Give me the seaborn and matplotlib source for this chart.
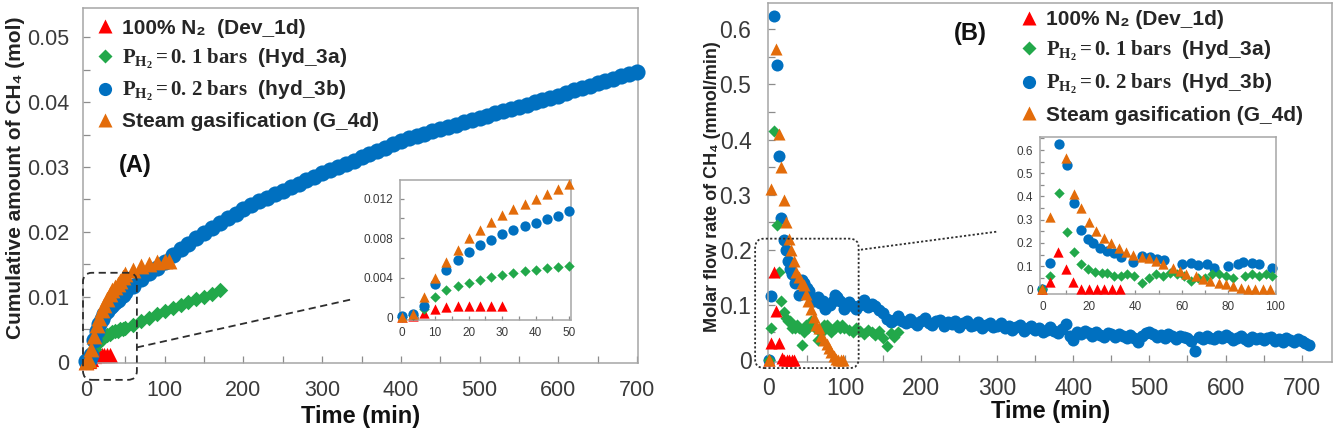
import matplotlib
matplotlib.use("Agg")
import matplotlib.pyplot as plt
import numpy as np
import seaborn as sns
from matplotlib.lines import Line2D
from matplotlib.patches import FancyBboxPatch
from matplotlib.ticker import MultipleLocator
from matplotlib.transforms import IdentityTransform

RED = "#FF0000"
GREEN = "#22A84A"
BLUE = "#0070C0"
ORANGE = "#E36C0A"

# ---- panel A: cumulative CH4 (mol) ----
A_T_FINE = [0, 3.3, 6.7, 10, 13.3, 16.7, 20, 23.3, 26.7, 30, 33.3, 36.7, 40, 43.3, 46.7, 50]
A_RED = [0, 0.0001, 0.0004, 0.0008, 0.001, 0.0011, 0.0011, 0.0011, 0.0011, 0.0011]
A_GREEN_FINE = [0, 0.0002, 0.0008, 0.002, 0.0027, 0.0032, 0.0035, 0.0038, 0.0041, 0.0043,
                0.0045, 0.0047, 0.0048, 0.005, 0.0051, 0.0052]
A_BLUE_FINE = [0.0001, 0.0003, 0.0011, 0.0034, 0.0048, 0.0058, 0.0066, 0.0073, 0.0078, 0.0084,
               0.0088, 0.0092, 0.0095, 0.0099, 0.0102, 0.0108]
A_ORANGE_FINE = [0, 0.0003, 0.002, 0.004, 0.0056, 0.0068, 0.008, 0.0088, 0.0096, 0.0104,
                 0.011, 0.0115, 0.012, 0.0125, 0.013, 0.0135]

A_T_GREEN_LONG = [60, 70, 80, 90, 100, 110, 120, 130, 140, 150, 160, 170]
A_GREEN_LONG = [0.0057, 0.0062, 0.0068, 0.0073, 0.0078, 0.0083, 0.0087, 0.0092, 0.0096, 0.0100,
                0.0105, 0.0110]
A_T_ORANGE_LONG = [60, 70, 80, 90, 100, 105]
A_ORANGE_LONG = [0.0141, 0.0147, 0.0151, 0.0153, 0.0155, 0.0155]
A_T_BLUE_LONG = list(range(60, 710, 10))
A_BLUE_LONG = [0.0117, 0.0127, 0.0136, 0.0145, 0.0154, 0.0164, 0.0173, 0.0182, 0.0190, 0.0198,
               0.0206, 0.0213, 0.0221, 0.0228, 0.0235, 0.0241, 0.0247, 0.0253, 0.0258, 0.0263,
               0.0269, 0.0274, 0.0280, 0.0285, 0.0290, 0.0295, 0.0300, 0.0305, 0.0310, 0.0315,
               0.0320, 0.0325, 0.0330, 0.0335, 0.0340, 0.0344, 0.0348, 0.0351, 0.0355, 0.0358,
               0.0362, 0.0365, 0.0369, 0.0372, 0.0376, 0.0379, 0.0383, 0.0386, 0.0390, 0.0393,
               0.0396, 0.0400, 0.0403, 0.0407, 0.0410, 0.0414, 0.0418, 0.0421, 0.0425, 0.0429,
               0.0432, 0.0436, 0.0440, 0.0443, 0.0447]

# ---- panel B: molar flow rate of CH4 (mmol/min) ----
B_T_RED = [0, 3.3, 6.7, 10, 13.3, 16.7, 20, 23.3, 26.7, 30, 33.3]
B_RED = [0, 0.03, 0.16, 0.088, 0.03, 0.003, 0.0, 0.0, 0.0, 0.0, 0.0]
B_T_GREEN = [0, 3.5, 7, 10.5, 13.5, 16.5, 19.5, 22.5, 25.5, 28, 31, 34, 36.5, 39.5, 43, 46, 49,
             52, 55, 58, 61, 64, 67, 70, 73, 76, 79, 82, 87, 90, 93, 96, 99]
B_GREEN = [0.0, 0.057, 0.415, 0.245, 0.16, 0.107, 0.086, 0.076, 0.071, 0.071, 0.057, 0.057,
           0.064, 0.057, 0.026, 0.05, 0.064, 0.057, 0.071, 0.064, 0.057, 0.036, 0.05, 0.05,
           0.064, 0.064, 0.057, 0.05, 0.057, 0.064, 0.057, 0.064, 0.057]
B_T_BLUE = [0, 3.5, 7, 10.5, 13.5, 16.5, 19.5, 22, 25, 28, 31, 34, 39, 43, 46.5, 49.5, 52.5,
            60, 64, 67, 71, 74, 80, 84, 86.5, 90, 93, 99]
B_BLUE = [0.0, 0.115, 0.625, 0.535, 0.37, 0.257, 0.217, 0.2, 0.18, 0.165, 0.155, 0.14, 0.117,
          0.145, 0.14, 0.13, 0.125, 0.107, 0.114, 0.103, 0.107, 0.093, 0.1, 0.107, 0.117,
          0.114, 0.107, 0.093]
B_T_ORANGE = [0, 3.5, 10, 13.5, 16.5, 20, 23, 26.5, 29.5, 33, 36, 39, 43, 46, 49, 52, 56, 59,
              62, 66, 69, 72, 76, 79, 82, 85.5, 88.5, 91.5, 95, 98]
B_ORANGE = [0.0, 0.31, 0.565, 0.41, 0.35, 0.29, 0.25, 0.22, 0.2, 0.18, 0.16, 0.15, 0.14, 0.135,
            0.12, 0.107, 0.093, 0.078, 0.064, 0.057, 0.043, 0.036, 0.028, 0.021, 0.014, 0.007,
            0.002, 0.0, 0.0, 0.0]
B_T_GREEN_LONG = [105, 110, 115, 120, 125, 130, 135, 140, 145, 150, 155, 160, 165, 170]
B_GREEN_LONG = [0.055, 0.050, 0.058, 0.052, 0.047, 0.055, 0.050, 0.045, 0.052, 0.040, 0.025,
                0.048, 0.042, 0.050]
B_T_BLUE_LONG = list(range(105, 711, 5))
B_BLUE_LONG = [0.105, 0.098, 0.092, 0.100, 0.108, 0.095, 0.102, 0.097, 0.090, 0.085,
               0.075, 0.068, 0.072, 0.080, 0.070, 0.066, 0.074, 0.069, 0.063, 0.071,
               0.076, 0.067, 0.064, 0.070, 0.073, 0.062, 0.068, 0.065, 0.071, 0.060,
               0.066, 0.070, 0.061, 0.064, 0.068, 0.058, 0.063, 0.067, 0.059, 0.062,
               0.066, 0.057, 0.061, 0.055, 0.060, 0.064, 0.053, 0.058, 0.062, 0.054,
               0.057, 0.050, 0.055, 0.060, 0.052, 0.048, 0.056, 0.065, 0.044, 0.036,
               0.050, 0.046, 0.053, 0.048, 0.044, 0.051, 0.045, 0.042, 0.049, 0.046,
               0.041, 0.047, 0.043, 0.039, 0.045, 0.040, 0.032, 0.044, 0.048, 0.051,
               0.046, 0.042, 0.045, 0.040, 0.047, 0.043, 0.038, 0.044, 0.041, 0.039,
               0.035, 0.016, 0.042, 0.038, 0.044, 0.040, 0.037, 0.043, 0.039, 0.045,
               0.041, 0.036, 0.040, 0.043, 0.038, 0.034, 0.041, 0.037, 0.040, 0.036,
               0.039, 0.042, 0.035, 0.038, 0.033, 0.040, 0.036, 0.032, 0.038, 0.035,
               0.030, 0.026]

LEGEND_A = ["100% N\u2082  (Dev_1d)",
            r"$\mathbf{P_{H_2} = 0.\,1\ bars}$  (Hyd_3a)",
            r"$\mathbf{P_{H_2} = 0.\,2\ bars}$  (hyd_3b)",
            "Steam gasification (G_4d)"]
LEGEND_B = ["100% N\u2082 (Dev_1d)",
            r"$\mathbf{P_{H_2} = 0.\,1\ bars}$  (Hyd_3a)",
            r"$\mathbf{P_{H_2} = 0.\,2\ bars}$  (Hyd_3b)",
            "Steam gasification (G_4d)"]

A_XTICKS = [0, 100, 200, 300, 400, 500, 600, 700]
A_YTICKS = [0, 0.01, 0.02, 0.03, 0.04, 0.05]
A_YLABELS = ["0", "0.01", "0.02", "0.03", "0.04", "0.05"]
B_XTICKS = [0, 100, 200, 300, 400, 500, 600, 700]
B_YTICKS = [0, 0.1, 0.2, 0.3, 0.4, 0.5, 0.6]
B_YLABELS = ["0", "0.1", "0.2", "0.3", "0.4", "0.5", "0.6"]
IA_XTICKS = [0, 10, 20, 30, 40, 50]
IA_YTICKS = [0, 0.004, 0.008, 0.012]
IA_YLABELS = ["0", "0.004", "0.008", "0.012"]
IB_XTICKS = [0, 20, 40, 60, 80, 100]
IB_YTICKS = [0, 0.1, 0.2, 0.3, 0.4, 0.5, 0.6]
IB_YLABELS = ["0", "0.1", "0.2", "0.3", "0.4", "0.5", "0.6"]

sns.set_theme(style="white")
plt.rcParams["font.family"] = ["Liberation Sans", "DejaVu Sans"]
plt.rcParams["mathtext.fontset"] = "custom"
plt.rcParams["mathtext.rm"] = "Liberation Serif"
plt.rcParams["mathtext.bf"] = "Liberation Serif:bold"
plt.rcParams["mathtext.it"] = "Liberation Serif:italic"

SPINE = "#A6A6A6"
TICKTXT = "#3A3A3A"


def dots(ax, x, y, color, marker, size, z):
    sns.scatterplot(x=x, y=y, ax=ax, color=color, marker=marker, s=size, linewidth=0,
                    zorder=z, clip_on=False, legend=False)


def style_axes(ax, xminor, yminor, labelsize, xpad, ypad, ticklen=5):
    for sp in ax.spines.values():
        sp.set_color(SPINE)
        sp.set_linewidth(1.1)
    ax.xaxis.set_minor_locator(MultipleLocator(xminor))
    ax.yaxis.set_minor_locator(MultipleLocator(yminor))
    ax.tick_params(which="both", direction="in", color="#8C8C8C", length=ticklen, width=0.9,
                   bottom=True, left=True, top=False, right=False)
    ax.tick_params(axis="x", which="major", labelsize=labelsize, labelcolor=TICKTXT, pad=xpad)
    ax.tick_params(axis="y", which="major", labelsize=labelsize, labelcolor=TICKTXT, pad=ypad)
    ax.set_xlabel("")
    ax.set_ylabel("")
    ax.grid(False)


def legend_handles(size):
    return [Line2D([], [], ls="none", marker="^", color=RED, mec="none", markersize=size),
            Line2D([], [], ls="none", marker="D", color=GREEN, mec="none", markersize=size * 0.7),
            Line2D([], [], ls="none", marker="o", color=BLUE, mec="none", markersize=size),
            Line2D([], [], ls="none", marker="^", color=ORANGE, mec="none", markersize=size)]


def rounded_box(fig, ax, x0, y0, x1, y1, ls):
    p0 = ax.transData.transform((x0, y0))
    p1 = ax.transData.transform((x1, y1))
    box = FancyBboxPatch((p0[0], p0[1]), p1[0] - p0[0], p1[1] - p0[1],
                         boxstyle="round,pad=0,rounding_size=9", transform=IdentityTransform(),
                         fill=False, ec="#2E2E2E", lw=1.3, ls=ls, zorder=5)
    fig.add_artist(box)


fig = plt.figure(figsize=(13.43, 4.28), dpi=100)
fig.patch.set_facecolor("white")

# ---------------- panel A ----------------
ax_a = fig.add_axes([0.0618, 0.1519, 0.4130, 0.8294])
dots(ax_a, A_T_FINE[:len(A_RED)], A_RED, RED, "^", 120, 2)
dots(ax_a, A_T_FINE + A_T_GREEN_LONG, A_GREEN_FINE + A_GREEN_LONG, GREEN, "D", 62, 3)
dots(ax_a, A_T_FINE + A_T_BLUE_LONG, A_BLUE_FINE + A_BLUE_LONG, BLUE, "o", 135, 4)
dots(ax_a, A_T_FINE + A_T_ORANGE_LONG, A_ORANGE_FINE + A_ORANGE_LONG, ORANGE, "^", 130, 5)
ax_a.set_xlim(-4, 701)
ax_a.set_ylim(-0.0002, 0.0545)
style_axes(ax_a, 50, 0.005, 15.5, 12, 10)
ax_a.set_xticks(A_XTICKS)
ax_a.set_yticks(A_YTICKS, labels=A_YLABELS)
ax_a.set_xlabel("Time (min)", fontsize=17, fontweight="bold", color="#111111")
ax_a.xaxis.set_label_coords(0.5, -0.152)
ax_a.xaxis.label.set_va("center")
ax_a.set_ylabel("Cumulative amount of CH\u2084 (mol)", fontsize=15, fontweight="bold",
                color="#222222")
ax_a.yaxis.set_label_coords(-0.122, 0.5225)
ax_a.yaxis.label.set_va("center")
ax_a.text(0.095, 0.555, "(A)", transform=ax_a.transAxes, fontsize=17, fontweight="bold",
          ha="center", va="center", color="#111111")
ax_a.legend(handles=legend_handles(9.5), labels=LEGEND_A, loc="upper left",
            bbox_to_anchor=(0.031, 0.97), frameon=False, borderpad=0, borderaxespad=0,
            handlelength=0.5, handletextpad=0.55, labelspacing=0.42,
            prop={"size": 15, "weight": "bold"})

rounded_box(fig, ax_a, -4, -0.0028, 64.5, 0.0137, (0, (4, 2.5)))
ax_a.plot([64.5, 341], [0.0022, 0.0097], ls=(0, (4, 2.5)), color="#2E2E2E", lw=1.3,
          clip_on=False, zorder=6)

# inset A
ins_a = fig.add_axes([0.2978, 0.2523, 0.1273, 0.3271])
ins_a.set_facecolor("white")
dots(ins_a, A_T_FINE[:len(A_RED)], A_RED, RED, "^", 55, 2)
dots(ins_a, A_T_FINE, A_GREEN_FINE, GREEN, "D", 28, 3)
dots(ins_a, A_T_FINE, A_BLUE_FINE, BLUE, "o", 55, 4)
dots(ins_a, A_T_FINE, A_ORANGE_FINE, ORANGE, "^", 55, 5)
ins_a.set_xlim(-0.5, 50.5)
ins_a.set_ylim(-0.0003, 0.0139)
style_axes(ins_a, 5, 0.002, 8.5, 5, 5, ticklen=3)
ins_a.set_xticks(IA_XTICKS)
ins_a.set_yticks(IA_YTICKS, labels=IA_YLABELS)

# ---------------- panel B ----------------
ax_b = fig.add_axes([0.5719, 0.1542, 0.4200, 0.8388])
dots(ax_b, B_T_BLUE + B_T_BLUE_LONG, B_BLUE + B_BLUE_LONG, BLUE, "o", 75, 2)
dots(ax_b, B_T_GREEN + B_T_GREEN_LONG, B_GREEN + B_GREEN_LONG, GREEN, "D", 38, 3)
dots(ax_b, B_T_RED, B_RED, RED, "^", 75, 4)
dots(ax_b, B_T_ORANGE, B_ORANGE, ORANGE, "^", 75, 5)
ax_b.set_xlim(-1, 740)
ax_b.set_ylim(-0.004, 0.648)
style_axes(ax_b, 50, 0.05, 16.5, 11, 12)
ax_b.set_xticks(B_XTICKS)
ax_b.set_yticks(B_YTICKS, labels=B_YLABELS)
ax_b.set_xlabel("Time (min)", fontsize=17, fontweight="bold", color="#111111")
ax_b.xaxis.set_label_coords(0.5, -0.138)
ax_b.xaxis.label.set_va("center")
ax_b.set_ylabel("Molar flow rate of CH\u2084 (mmol/min)", fontsize=13, fontweight="bold",
                color="#222222")
ax_b.yaxis.set_label_coords(-0.099, 0.489)
ax_b.yaxis.label.set_va("center")
ax_b.text(0.358, 0.915, "(B)", transform=ax_b.transAxes, fontsize=17, fontweight="bold",
          ha="center", va="center", color="#111111")
ax_b.legend(handles=legend_handles(9.5), labels=LEGEND_B, loc="upper left",
            bbox_to_anchor=(0.454, 0.98), frameon=False, borderpad=0, borderaxespad=0,
            handlelength=0.5, handletextpad=0.55, labelspacing=0.45,
            prop={"size": 15, "weight": "bold"})

rounded_box(fig, ax_b, -18, -0.015, 118, 0.22, (0, (1.2, 1.2)))
ax_b.plot([121, 301], [0.2, 0.233], ls=(0, (1.2, 1.2)), color="#2E2E2E", lw=1.3,
          clip_on=False, zorder=6)

# inset B
ins_b = fig.add_axes([0.7744, 0.3131, 0.1757, 0.3668])
ins_b.set_facecolor("white")
dots(ins_b, B_T_BLUE, B_BLUE, BLUE, "o", 55, 2)
dots(ins_b, B_T_GREEN, B_GREEN, GREEN, "D", 28, 3)
dots(ins_b, B_T_RED, B_RED, RED, "^", 55, 4)
dots(ins_b, B_T_ORANGE, B_ORANGE, ORANGE, "^", 55, 5)
ins_b.set_xlim(-1, 100.5)
ins_b.set_ylim(-0.02, 0.656)
style_axes(ins_b, 10, 0.05, 8.5, 5, 5, ticklen=3)
ins_b.set_xticks(IB_XTICKS)
ins_b.set_yticks(IB_YTICKS, labels=IB_YLABELS)

fig.savefig("out.png", dpi=100, facecolor="white")
